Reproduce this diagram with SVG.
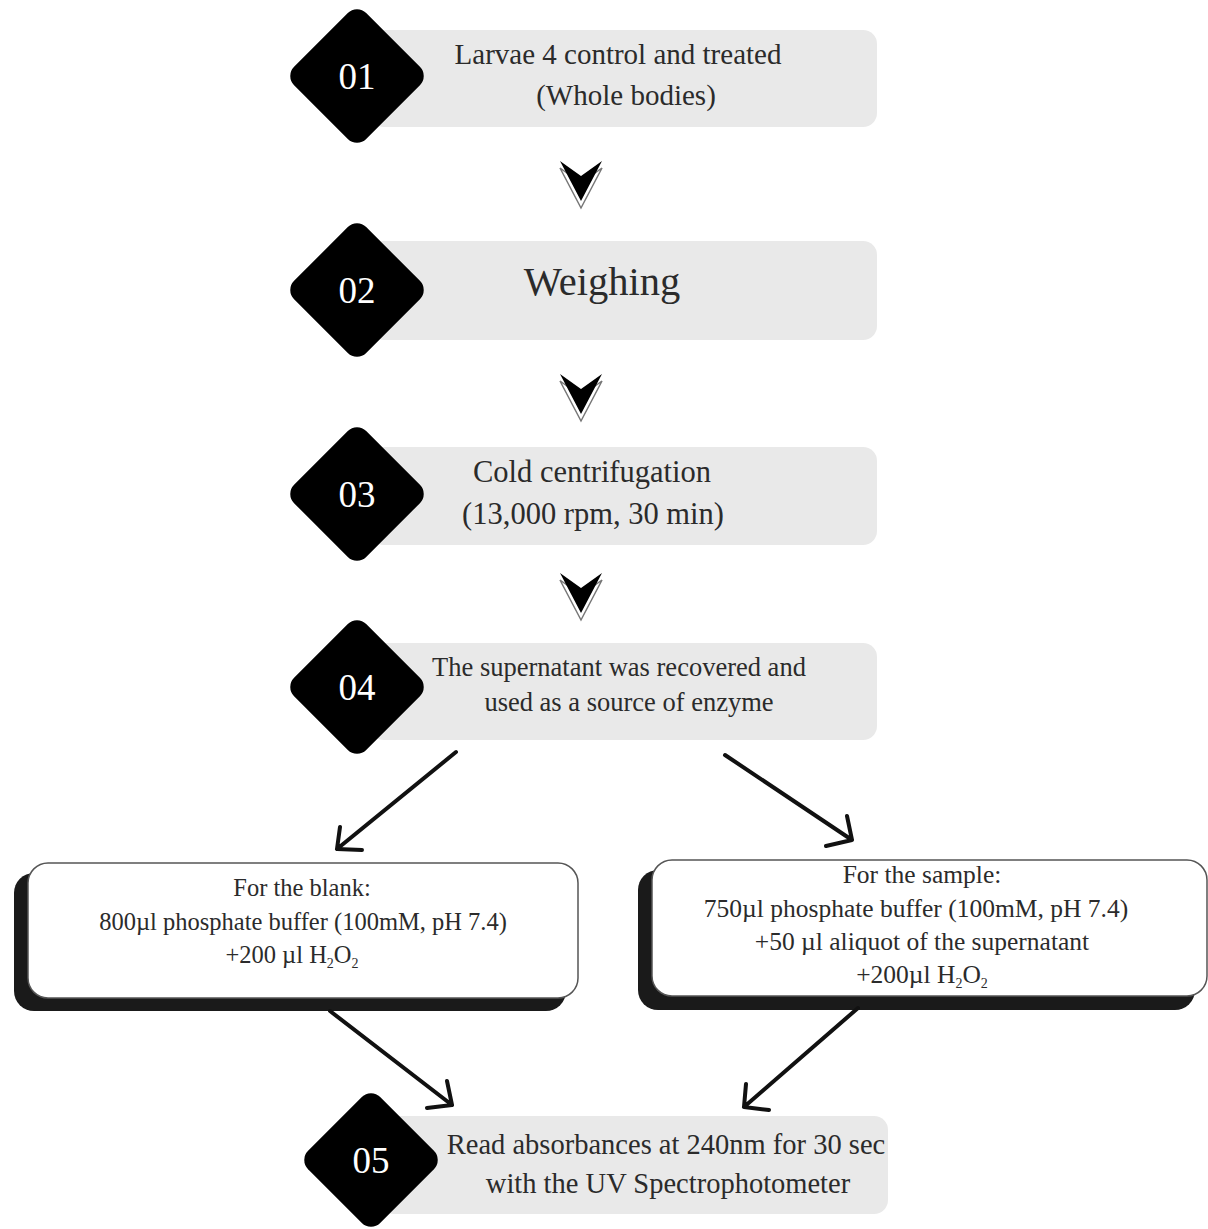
<svg xmlns="http://www.w3.org/2000/svg" width="1208" height="1229" viewBox="0 0 1208 1229">
<defs>
<style>
.step{fill:#e9e9e9;}
.dia{fill:#000;}
.num{font-family:"Liberation Serif",serif;font-size:37px;fill:#fff;text-anchor:middle;}
.t{font-family:"Liberation Serif",serif;font-size:29px;fill:#2b2b2b;text-anchor:middle;}
.s{font-family:"Liberation Serif",serif;font-size:24.5px;fill:#2b2b2b;text-anchor:middle;}
.sub{font-size:14px;}
.box{fill:#fff;stroke:#555;stroke-width:1.5;}
.shadow{fill:#1a1a1a;}
.arr{fill:none;stroke:#111;stroke-width:4;stroke-linecap:round;stroke-linejoin:round;}
</style>
<g id="chev">
<path d="M-21,0 L0,15 L21,0 L0,40 Z" fill="none" stroke="#777" stroke-width="1.5" transform="translate(0,7)"/>
<path d="M-21,0 L0,15 L21,0 L0,40 Z" fill="#000"/>
</g>
</defs>
<rect width="1208" height="1229" fill="#fff"/>

<g id="node01">
<rect class="step" x="370" y="30" width="507" height="97" rx="14"/>
<rect class="dia" x="306" y="25" width="102" height="102" rx="13" transform="rotate(45 357 76)"/>
<text class="num" x="357" y="89">01</text>
<text class="t" x="618" y="64">Larvae 4 control and treated</text>
<text class="t" x="626" y="105">(Whole bodies)</text>
</g>

<g id="node02">
<rect class="step" x="370" y="241" width="507" height="99" rx="14"/>
<rect class="dia" x="306" y="239" width="102" height="102" rx="13" transform="rotate(45 357 290)"/>
<text class="num" x="357" y="303">02</text>
<text class="t" x="602" y="295" style="font-size:40.5px">Weighing</text>
</g>

<g id="node03">
<rect class="step" x="370" y="447" width="507" height="98" rx="14"/>
<rect class="dia" x="306" y="443" width="102" height="102" rx="13" transform="rotate(45 357 494)"/>
<text class="num" x="357" y="507">03</text>
<text class="t" x="592" y="482" style="font-size:30.5px">Cold centrifugation</text>
<text class="t" x="593" y="524" style="font-size:30.5px">(13,000 rpm, 30 min)</text>
</g>

<g id="node04">
<rect class="step" x="370" y="643" width="507" height="97" rx="14"/>
<rect class="dia" x="306" y="636" width="102" height="102" rx="13" transform="rotate(45 357 687)"/>
<text class="num" x="357" y="700">04</text>
<text class="t" x="619" y="676" style="font-size:26.5px">The supernatant was recovered and</text>
<text class="t" x="629" y="711" style="font-size:26.5px">used as a source of enzyme</text>
</g>

<g id="blank">
<rect class="shadow" x="14" y="873" width="552" height="138" rx="20"/>
<rect class="box" x="28" y="863" width="550" height="135" rx="20"/>
<text class="s" x="302" y="896">For the blank:</text>
<text class="s" x="303" y="930">800µl phosphate buffer (100mM, pH 7.4)</text>
<text class="s" x="292" y="963">+200 µl H<tspan class="sub" dy="5">2</tspan><tspan dy="-5">O</tspan><tspan class="sub" dy="5">2</tspan></text>
</g>

<g id="sample">
<rect class="shadow" x="638" y="870" width="557" height="140" rx="20"/>
<rect class="box" x="652" y="860" width="555" height="136" rx="20"/>
<text class="s" x="922" y="883" style="font-size:25.5px">For the sample:</text>
<text class="s" x="916" y="917" style="font-size:25.5px">750µl phosphate buffer (100mM, pH 7.4)</text>
<text class="s" x="922" y="950" style="font-size:25.5px">+50 µl aliquot of the supernatant</text>
<text class="s" x="922" y="983" style="font-size:25.5px">+200µl H<tspan class="sub" dy="5">2</tspan><tspan dy="-5">O</tspan><tspan class="sub" dy="5">2</tspan></text>
</g>

<g id="node05">
<rect class="step" x="380" y="1116" width="508" height="98" rx="14"/>
<rect class="dia" x="320" y="1109" width="102" height="102" rx="13" transform="rotate(45 371 1160)"/>
<text class="num" x="371" y="1173">05</text>
<text class="t" x="666" y="1154" style="font-size:28.5px">Read absorbances at 240nm for 30 sec</text>
<text class="t" x="668" y="1193" style="font-size:28.5px">with the UV Spectrophotometer</text>
</g>

<g id="connectors">
<use href="#chev" x="581" y="161"/>
<use href="#chev" x="581" y="374"/>
<use href="#chev" x="581" y="573"/>
<path class="arr" d="M456,752 L337,849 M340,827 L337,849 L362,850"/>
<path class="arr" d="M725,755 L852,840 M847,816 L852,840 L826,846"/>
<path class="arr" d="M330,1011 L452,1105 M447,1081 L452,1105 L427,1108"/>
<path class="arr" d="M858,1008 L744,1107 M746,1084 L744,1107 L769,1110"/>
</g>
</svg>
